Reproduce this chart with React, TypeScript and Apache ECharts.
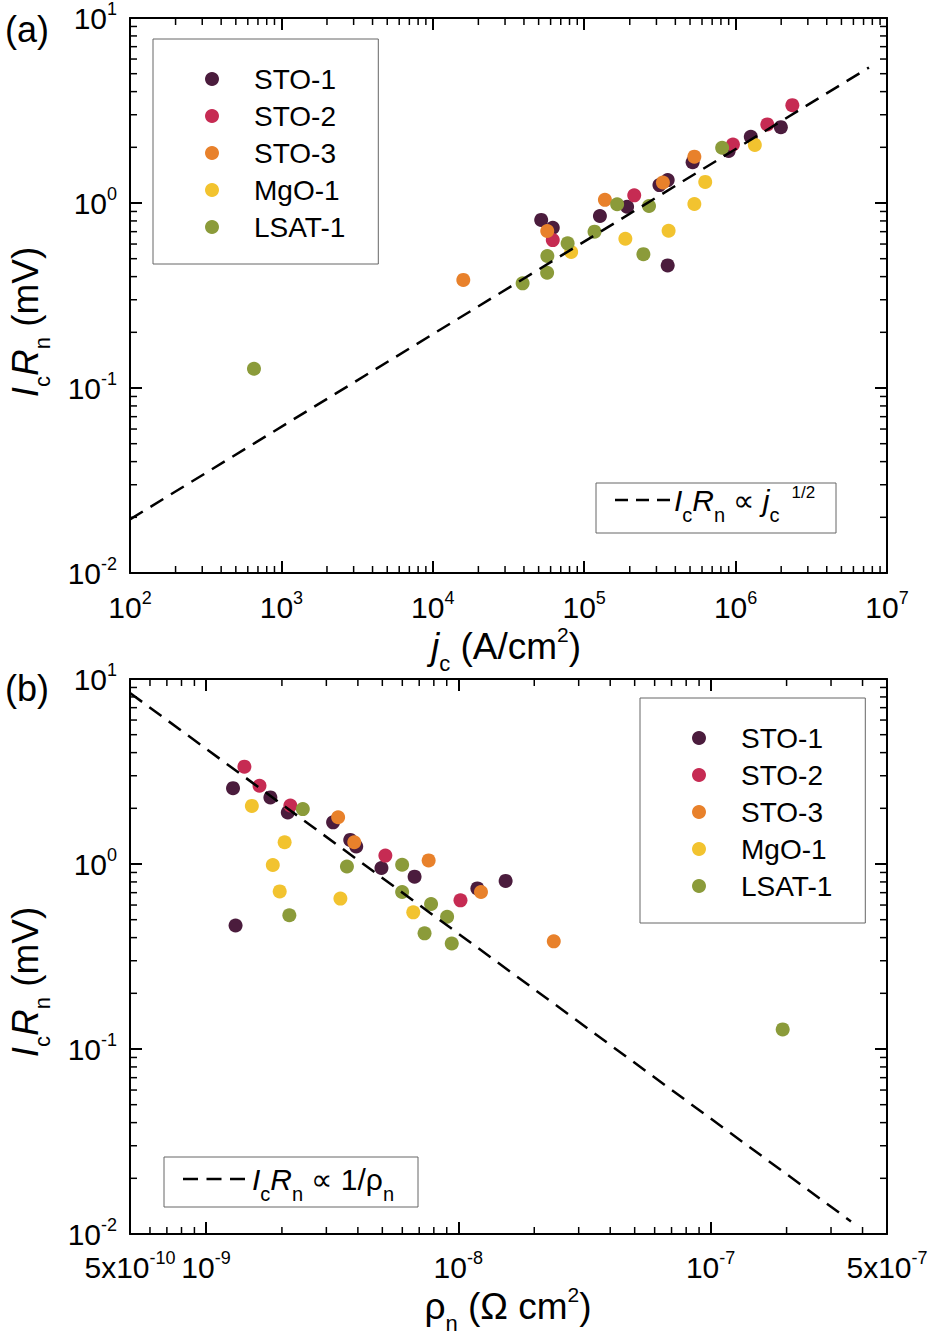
import React, { useEffect, useRef } from 'react';
import * as echarts from 'echarts';

const FONT = "'Liberation Sans', Arial, Helvetica, sans-serif";

const SERIES_NAMES = ['STO-1', 'STO-2', 'STO-3', 'MgO-1', 'LSAT-1'];
const SERIES_COLORS = ['#4b1c3d', '#c62b53', '#e8812b', '#f2c32f', '#8b9b3a'];

// ---- Panel (a): jc (A/cm^2) vs IcRn (mV)
const JC_STO1 = [5.2e4, 6.2e4, 1.27e5, 1.92e5, 3.56e5, 3.56e5, 3.14e5, 5.2e5, 9.0e5, 1.26e6, 1.99e6];
const ICRN_A_STO1 = [0.81, 0.735, 0.85, 0.955, 0.46, 1.33, 1.25, 1.66, 1.91, 2.28, 2.57];
const JC_STO2 = [6.2e4, 2.14e5, 9.6e5, 1.62e6, 2.37e6];
const ICRN_A_STO2 = [0.63, 1.1, 2.07, 2.66, 3.38];
const JC_STO3 = [1.59e4, 5.7e4, 1.37e5, 3.31e5, 5.34e5];
const ICRN_A_STO3 = [0.384, 0.706, 1.04, 1.29, 1.78];
const JC_MGO1 = [8.2e4, 1.87e5, 3.61e5, 5.34e5, 6.3e5, 1.34e6];
const ICRN_A_MGO1 = [0.543, 0.641, 0.708, 0.988, 1.3, 2.06];
const JC_LSAT1 = [659, 3.92e4, 5.69e4, 5.71e4, 7.77e4, 1.17e5, 1.65e5, 2.46e5, 2.68e5, 8.15e5];
const ICRN_A_LSAT1 = [0.127, 0.368, 0.42, 0.517, 0.605, 0.7, 0.984, 0.529, 0.963, 1.99];

// ---- Panel (b): rho_n (Ohm cm^2) vs IcRn (mV)
const RHO_STO1 = [1.28e-9, 1.8e-9, 2.11e-9, 3.19e-9, 3.73e-9, 3.94e-9, 4.96e-9, 1.31e-9, 6.71e-9, 1.19e-8, 1.54e-8];
const ICRN_B_STO1 = [2.57, 2.29, 1.9, 1.68, 1.35, 1.245, 0.951, 0.465, 0.854, 0.738, 0.81];
const RHO_STO2 = [1.42e-9, 1.63e-9, 2.16e-9, 5.14e-9, 1.02e-8];
const ICRN_B_STO2 = [3.36, 2.65, 2.07, 1.11, 0.636];
const RHO_STO3 = [3.34e-9, 3.87e-9, 7.63e-9, 1.23e-8, 2.39e-8];
const ICRN_B_STO3 = [1.79, 1.31, 1.046, 0.706, 0.382];
const RHO_MGO1 = [1.52e-9, 2.05e-9, 1.84e-9, 1.96e-9, 3.41e-9, 6.63e-9];
const ICRN_B_MGO1 = [2.06, 1.31, 0.988, 0.711, 0.65, 0.548];
const RHO_LSAT1 = [2.42e-9, 3.62e-9, 5.99e-9, 5.99e-9, 2.14e-9, 7.8e-9, 9.03e-9, 7.35e-9, 9.42e-9, 1.93e-7];
const ICRN_B_LSAT1 = [1.98, 0.97, 0.991, 0.706, 0.528, 0.608, 0.519, 0.422, 0.3715, 0.1276];

// ---- Guide lines (end points)
const FIT_A_JC = [1e2, 7.6e6];
const FIT_A_ICRN = [0.0195, 5.4];
const FIT_B_RHO = [5e-10, 3.6e-7];
const FIT_B_ICRN = [8.4, 0.0117];

// ---- Axis ranges
const X_RANGE_A = [1e2, 1e7];
const X_RANGE_B = [5e-10, 5e-7];
const Y_RANGE = [1e-2, 1e1];
const MINOR_MULTS = [2, 3, 4, 5, 6, 7, 8, 9];

const PANEL_A_X = [JC_STO1, JC_STO2, JC_STO3, JC_MGO1, JC_LSAT1];
const PANEL_A_Y = [ICRN_A_STO1, ICRN_A_STO2, ICRN_A_STO3, ICRN_A_MGO1, ICRN_A_LSAT1];
const PANEL_B_X = [RHO_STO1, RHO_STO2, RHO_STO3, RHO_MGO1, RHO_LSAT1];
const PANEL_B_Y = [ICRN_B_STO1, ICRN_B_STO2, ICRN_B_STO3, ICRN_B_MGO1, ICRN_B_LSAT1];

function minorTicks(range: number[]): number[] {
  const out: number[] = [];
  const e0 = Math.floor(Math.log10(range[0]) + 1e-9);
  const e1 = Math.ceil(Math.log10(range[1]) - 1e-9);
  for (let e = e0; e < e1; e++) {
    for (const m of MINOR_MULTS) {
      const v = m * Math.pow(10, e);
      if (v > range[0] * 1.0001 && v < range[1] * 0.9999) out.push(v);
    }
  }
  return out;
}

function fmtLog(v: number): string {
  const e = Math.floor(Math.log10(v) + 1e-9);
  const m = Math.round(v / Math.pow(10, e));
  return m === 1 ? `{b|10}{s|${e}}` : `{b|${m}x10}{s|${e}}`;
}

const LABEL_RICH = {
  b: { fontSize: 30, lineHeight: 40, color: '#000', fontFamily: FONT },
  s: { fontSize: 18, height: 22, verticalAlign: 'top', color: '#000', fontFamily: FONT },
};

const TITLE_RICH = {
  i: { fontSize: 37, fontStyle: 'italic', fontFamily: FONT, lineHeight: 48, fill: '#000' },
  n: { fontSize: 37, fontFamily: FONT, lineHeight: 48, fill: '#000' },
  sub: { fontSize: 22, fontFamily: FONT, height: 14, verticalAlign: 'bottom', fill: '#000' },
  sup: { fontSize: 21, fontFamily: FONT, height: 24, verticalAlign: 'top', fill: '#000' },
};

const KEY_RICH = {
  i: { fontSize: 30, fontStyle: 'italic', fontFamily: FONT, lineHeight: 40, fill: '#000' },
  n: { fontSize: 30, fontFamily: FONT, lineHeight: 40, fill: '#000' },
  sub: { fontSize: 20, fontFamily: FONT, height: 10, verticalAlign: 'bottom', fill: '#000' },
  sup: { fontSize: 17, fontFamily: FONT, height: 24, verticalAlign: 'top', padding: [0, 0, 0, 12], fill: '#000' },
};

const AXIS_LINE = { show: true, onZero: false, lineStyle: { color: '#000', width: 2 } };
const AXIS_TICK = { show: true, inside: true, length: 12, lineStyle: { color: '#000', width: 2 } };
const MINOR_LEN = 7;

function logAxis(gridIndex: number, range: number[], position: string, labels: boolean, margin: number) {
  return {
    type: 'log',
    logBase: 10,
    gridIndex,
    min: range[0],
    max: range[1],
    position,
    axisLine: AXIS_LINE,
    axisTick: AXIS_TICK,
    splitLine: { show: false },
    minorTick: { show: false },
    minorSplitLine: { show: false },
    axisLabel: labels
      ? { show: true, margin, formatter: fmtLog, rich: LABEL_RICH, color: '#000', fontFamily: FONT }
      : { show: false },
  };
}

function minorTickSeries(xi: number, yi: number, values: number[], dir: 'x' | 'y', ref: number) {
  return {
    type: 'custom',
    xAxisIndex: xi,
    yAxisIndex: yi,
    silent: true,
    clip: false,
    z: 10,
    data: values.map((v) => (dir === 'x' ? [v, ref] : [ref, v])),
    renderItem: (params: any, api: any) => {
      const cs = params.coordSys;
      const p = api.coord([api.value(0), api.value(1)]);
      const st = { stroke: '#000', lineWidth: 1.5 };
      if (dir === 'x') {
        const x = p[0];
        const yb = cs.y + cs.height;
        const yt = cs.y;
        return {
          type: 'group',
          children: [
            { type: 'line', shape: { x1: x, y1: yb, x2: x, y2: yb - MINOR_LEN }, style: st },
            { type: 'line', shape: { x1: x, y1: yt, x2: x, y2: yt + MINOR_LEN }, style: st },
          ],
        };
      }
      const y = p[1];
      const xl = cs.x;
      const xr = cs.x + cs.width;
      return {
        type: 'group',
        children: [
          { type: 'line', shape: { x1: xl, y1: y, x2: xl + MINOR_LEN, y2: y }, style: st },
          { type: 'line', shape: { x1: xr, y1: y, x2: xr - MINOR_LEN, y2: y }, style: st },
        ],
      };
    },
  };
}

function scatterSeries(xi: number, yi: number, xs: number[][], ys: number[][]) {
  return SERIES_NAMES.map((name, k) => ({
    type: 'scatter',
    name,
    xAxisIndex: xi,
    yAxisIndex: yi,
    symbol: 'circle',
    symbolSize: 14,
    z: 2,
    itemStyle: { color: SERIES_COLORS[k], opacity: 1 },
    data: xs[k].map((x, i) => [x, ys[k][i]]),
  }));
}

function fitSeries(xi: number, yi: number, xs: number[], ys: number[]) {
  return {
    type: 'line',
    name: 'fit',
    xAxisIndex: xi,
    yAxisIndex: yi,
    symbol: 'none',
    showSymbol: false,
    z: 3,
    lineStyle: { color: '#000', width: 2.5, type: [15, 9] },
    data: xs.map((x, i) => [x, ys[i]]),
  };
}

const LEGEND_BASE = {
  orient: 'vertical',
  icon: 'circle',
  itemWidth: 74,
  itemHeight: 14,
  itemGap: 7,
  padding: [25, 33, 22, 52],
  borderColor: '#666',
  borderWidth: 1,
  selectedMode: false,
  data: SERIES_NAMES,
  textStyle: { fontSize: 28, lineHeight: 30, color: '#000', fontFamily: FONT },
};

function buildOption() {
  return {
    animation: false,
    backgroundColor: '#fff',
    textStyle: { fontFamily: FONT },
    grid: [
      { left: 130, top: 18, width: 757, height: 555, containLabel: false, outerBoundsMode: 'none' },
      { left: 130, top: 679, width: 757, height: 555, containLabel: false, outerBoundsMode: 'none' },
    ],
    xAxis: [
      logAxis(0, X_RANGE_A, 'bottom', true, 14),
      logAxis(0, X_RANGE_A, 'top', false, 0),
      logAxis(1, X_RANGE_B, 'bottom', true, 13),
      logAxis(1, X_RANGE_B, 'top', false, 0),
    ],
    yAxis: [
      logAxis(0, Y_RANGE, 'left', true, 13),
      logAxis(0, Y_RANGE, 'right', false, 0),
      logAxis(1, Y_RANGE, 'left', true, 13),
      logAxis(1, Y_RANGE, 'right', false, 0),
    ],
    legend: [
      { ...LEGEND_BASE, left: 153, top: 39 },
      { ...LEGEND_BASE, left: 640, top: 698 },
    ],
    series: [
      ...scatterSeries(0, 0, PANEL_A_X, PANEL_A_Y),
      ...scatterSeries(2, 2, PANEL_B_X, PANEL_B_Y),
      fitSeries(0, 0, FIT_A_JC, FIT_A_ICRN),
      fitSeries(2, 2, FIT_B_RHO, FIT_B_ICRN),
      minorTickSeries(0, 0, minorTicks(X_RANGE_A), 'x', 1),
      minorTickSeries(0, 0, minorTicks(Y_RANGE), 'y', 1e4),
      minorTickSeries(2, 2, minorTicks(X_RANGE_B), 'x', 1),
      minorTickSeries(2, 2, minorTicks(Y_RANGE), 'y', 1e-8),
    ],
    graphic: [
      { type: 'text', x: 27, y: 29, style: { text: '(a)', fontSize: 36, fontFamily: FONT, fill: '#000', align: 'center', verticalAlign: 'middle' } },
      { type: 'text', x: 27, y: 688, style: { text: '(b)', fontSize: 36, fontFamily: FONT, fill: '#000', align: 'center', verticalAlign: 'middle' } },
      {
        type: 'text', x: 25, y: 322, rotation: Math.PI / 2,
        style: { text: '{i|I}{sub|c}{i|R}{sub|n}{n| (mV)}', rich: TITLE_RICH, fill: '#000', align: 'center', verticalAlign: 'middle' },
      },
      {
        type: 'text', x: 25, y: 982, rotation: Math.PI / 2,
        style: { text: '{i|I}{sub|c}{i|R}{sub|n}{n| (mV)}', rich: TITLE_RICH, fill: '#000', align: 'center', verticalAlign: 'middle' },
      },
      {
        type: 'text', x: 506, y: 646,
        style: { text: '{i|j}{sub|c}{n| (A/cm}{sup|2}{n|)}', rich: TITLE_RICH, fill: '#000', align: 'center', verticalAlign: 'middle' },
      },
      {
        type: 'text', x: 508, y: 1306,
        style: { text: '{n|ρ}{sub|n}{n| (Ω cm}{sup|2}{n|)}', rich: TITLE_RICH, fill: '#000', align: 'center', verticalAlign: 'middle' },
      },
      { type: 'rect', shape: { x: 596, y: 483, width: 240, height: 50 }, style: { fill: 'none', stroke: '#666', lineWidth: 1 } },
      { type: 'line', shape: { x1: 615, y1: 500, x2: 670, y2: 500 }, style: { stroke: '#000', lineWidth: 2.5, lineDash: [13, 8] } },
      {
        type: 'text', x: 674, y: 500,
        style: { text: '{i|I}{sub|c}{i|R}{sub|n}{n| ∝ }{i|j}{sub|c}{sup|1/2}', rich: KEY_RICH, fill: '#000', align: 'left', verticalAlign: 'middle' },
      },
      { type: 'rect', shape: { x: 164, y: 1157, width: 254, height: 50 }, style: { fill: 'none', stroke: '#666', lineWidth: 1 } },
      { type: 'line', shape: { x1: 183, y1: 1179, x2: 245, y2: 1179 }, style: { stroke: '#000', lineWidth: 2.5, lineDash: [15, 8.5] } },
      {
        type: 'text', x: 252, y: 1179,
        style: { text: '{i|I}{sub|c}{i|R}{sub|n}{n| ∝ 1/ρ}{sub|n}', rich: KEY_RICH, fill: '#000', align: 'left', verticalAlign: 'middle' },
      },
    ],
  };
}

export default function App() {
  const ref = useRef<HTMLDivElement>(null);
  useEffect(() => {
    if (!ref.current) return;
    const chart = echarts.init(ref.current, null, { renderer: 'svg' });
    chart.setOption(buildOption() as any);
    return () => chart.dispose();
  }, []);
  return (
    <div
      ref={ref}
      style={{ position: 'absolute', left: 0, top: 0, width: 934, height: 1340, background: '#fff' }}
    />
  );
}
